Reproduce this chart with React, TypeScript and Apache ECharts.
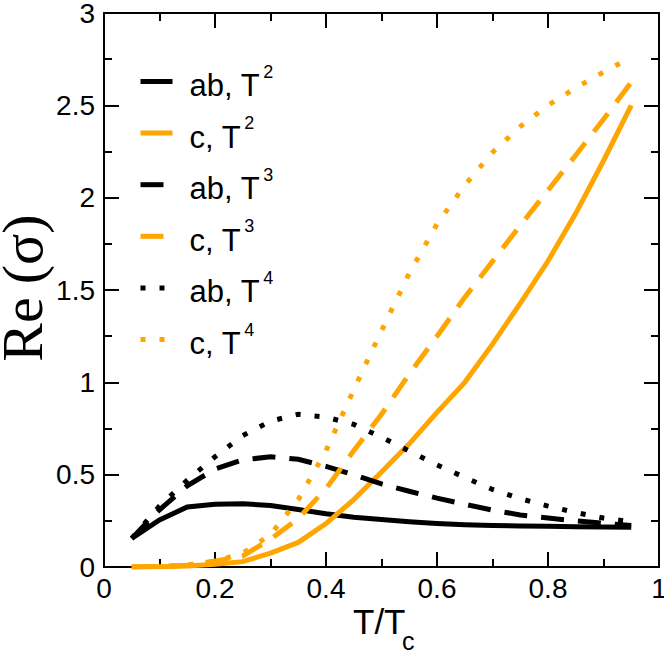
import React, { useEffect, useRef } from "react";
import * as echarts from "echarts";

const X = [0.05, 0.1, 0.15, 0.2, 0.25, 0.3, 0.35, 0.4, 0.45, 0.5, 0.55, 0.6, 0.65, 0.7, 0.75, 0.8, 0.85, 0.9, 0.95];
const AB_T2 = [0.155, 0.255, 0.325, 0.34, 0.343, 0.333, 0.311, 0.288, 0.27, 0.257, 0.245, 0.236, 0.229, 0.225, 0.222, 0.22, 0.218, 0.216, 0.215];
const C_T2 = [0, 0.002, 0.006, 0.015, 0.029, 0.075, 0.133, 0.235, 0.365, 0.515, 0.667, 0.837, 1.0, 1.207, 1.428, 1.657, 1.915, 2.2, 2.5];
const AB_T3 = [0.155, 0.31, 0.44, 0.53, 0.58, 0.597, 0.583, 0.545, 0.5, 0.45, 0.41, 0.373, 0.34, 0.308, 0.282, 0.265, 0.25, 0.237, 0.225];
const C_T3 = [0, 0.003, 0.01, 0.032, 0.06, 0.15, 0.263, 0.424, 0.63, 0.827, 1.045, 1.25, 1.46, 1.655, 1.85, 2.04, 2.23, 2.425, 2.625];
const AB_T4 = [0.155, 0.33, 0.47, 0.597, 0.712, 0.79, 0.827, 0.812, 0.772, 0.703, 0.628, 0.553, 0.485, 0.42, 0.37, 0.33, 0.295, 0.265, 0.245];
const C_T4 = [0, 0.003, 0.01, 0.03, 0.075, 0.175, 0.365, 0.63, 0.96, 1.28, 1.59, 1.857, 2.067, 2.245, 2.385, 2.5, 2.595, 2.68, 2.76];

const LEGEND = [
  { key: "ab2", label: "ab, T", sup: "2" },
  { key: "c2", label: "c, T", sup: "2" },
  { key: "ab3", label: "ab, T", sup: "3" },
  { key: "c3", label: "c, T", sup: "3" },
  { key: "ab4", label: "ab, T", sup: "4" },
  { key: "c4", label: "c, T", sup: "4" },
];

const X_TICKS = { min: 0, max: 1, interval: 0.2 };
const Y_TICKS = { min: 0, max: 3, interval: 0.5 };

const X_TITLE = { main: "T/T", sub: "c" };
const Y_TITLE = { main: "Re", paren: "(σ)" };

const BLACK = "#000000";
const ORANGE = "#FFA500";
const DASH = [23, 14];
const DOT = [5, 14];
const LW = 5;

export default function App() {
  const ref = useRef<HTMLDivElement>(null);
  useEffect(() => {
    if (!ref.current) return;
    const chart = echarts.init(ref.current, null, { renderer: "svg" });
    const seriesDefs = [
      { data: AB_T2, color: BLACK, type: "solid" as any },
      { data: C_T2, color: ORANGE, type: "solid" as any },
      { data: AB_T3, color: BLACK, type: DASH },
      { data: C_T3, color: ORANGE, type: DASH },
      { data: AB_T4, color: BLACK, type: DOT },
      { data: C_T4, color: ORANGE, type: DOT },
    ];
    const axisCommon = {
      axisLine: { onZero: false, lineStyle: { color: "#000", width: 2 } },
      axisTick: { inside: true, length: 15, lineStyle: { color: "#000", width: 2 } },
      minorTick: { show: true, splitNumber: 2, length: 8, lineStyle: { color: "#000", width: 2 } },
      splitLine: { show: false },
    };
    const tickLabel = {
      color: "#000",
      fontFamily: "Liberation Sans",
      fontSize: 28,
      lineHeight: 24,
    };
    const option: any = {
      animation: false,
      grid: { left: 104, right: 5, top: 13, bottom: 87, containLabel: false, outerBoundsMode: "none" },
      legend: {
        orient: "vertical",
        left: 138,
        top: 62,
        padding: 0,
        itemWidth: 32,
        itemHeight: 14,
        itemGap: 12.6,
        lineStyle: { width: LW },
        itemStyle: { color: "rgba(0,0,0,0)", borderColor: "rgba(0,0,0,0)", borderWidth: 0, opacity: 0 },
        data: LEGEND.map((l) => l.key),
        formatter: (name: string) => {
          const l = LEGEND.find((e) => e.key === name)!;
          return `{a|${l.label}}{s|${l.sup}}`;
        },
        textStyle: {
          color: "#000",
          rich: {
            a: {
              fontFamily: "Liberation Sans Narrow, Liberation Sans",
              fontSize: 31,
              lineHeight: 31,
              padding: [8, 0, 0, 12],
              color: "#000",
            },
            s: {
              fontFamily: "Liberation Sans Narrow, Liberation Sans",
              fontSize: 18,
              lineHeight: 18,
              padding: [0, 0, 20, 3],
              color: "#000",
            },
          },
        },
      },
      graphic: [
        {
          type: "text",
          x: 353,
          y: 621,
          silent: true,
          style: {
            text: X_TITLE.main,
            fontFamily: "Liberation Sans",
            fontSize: 35,
            lineHeight: 28,
            fill: "#000",
            align: "left",
            verticalAlign: "middle",
          },
        },
        {
          type: "text",
          x: 402,
          y: 641,
          silent: true,
          style: {
            text: X_TITLE.sub,
            fontFamily: "Liberation Sans",
            fontSize: 25,
            lineHeight: 16,
            fill: "#000",
            align: "left",
            verticalAlign: "middle",
          },
        },
        {
          type: "text",
          x: 22,
          y: 288,
          rotation: Math.PI / 2,
          silent: true,
          style: {
            text: `{a|${Y_TITLE.main}}{b|${Y_TITLE.paren}}`,
            align: "center",
            verticalAlign: "middle",
            fill: "#000",
            rich: {
              a: { fontFamily: "Liberation Serif", fontSize: 58, lineHeight: 40, fill: "#000" },
              b: { fontFamily: "Liberation Serif", fontSize: 58, lineHeight: 40, padding: [0, 0, 0, 13], fill: "#000" },
            },
          },
        },
      ],
      xAxis: [
        {
          type: "value",
          ...X_TICKS,
          position: "bottom",
          ...axisCommon,
          axisLabel: { ...tickLabel, margin: 9 },
        },
        {
          type: "value",
          ...X_TICKS,
          position: "top",
          ...axisCommon,
          axisLabel: { show: false },
        },
      ],
      yAxis: [
        {
          type: "value",
          ...Y_TICKS,
          position: "left",
          ...axisCommon,
          axisLabel: { ...tickLabel, margin: 9 },
        },
        {
          type: "value",
          ...Y_TICKS,
          position: "right",
          ...axisCommon,
          axisLabel: { show: false },
        },
      ],
      series: seriesDefs.map((s, i) => ({
        name: LEGEND[i].key,
        type: "line",
        xAxisIndex: 0,
        yAxisIndex: 0,
        symbol: "none",
        showSymbol: false,
        data: X.map((x, j) => [x, s.data[j]]),
        lineStyle: { color: s.color, width: LW, type: s.type, cap: "butt", join: "miter" },
        itemStyle: { color: s.color },
        z: 2 + i,
      })),
    };
    chart.setOption(option);
    return () => chart.dispose();
  }, []);
  return (
    <div
      ref={ref}
      style={{ position: "fixed", left: 0, top: 0, width: 664, height: 654, background: "#fff" }}
    />
  );
}
